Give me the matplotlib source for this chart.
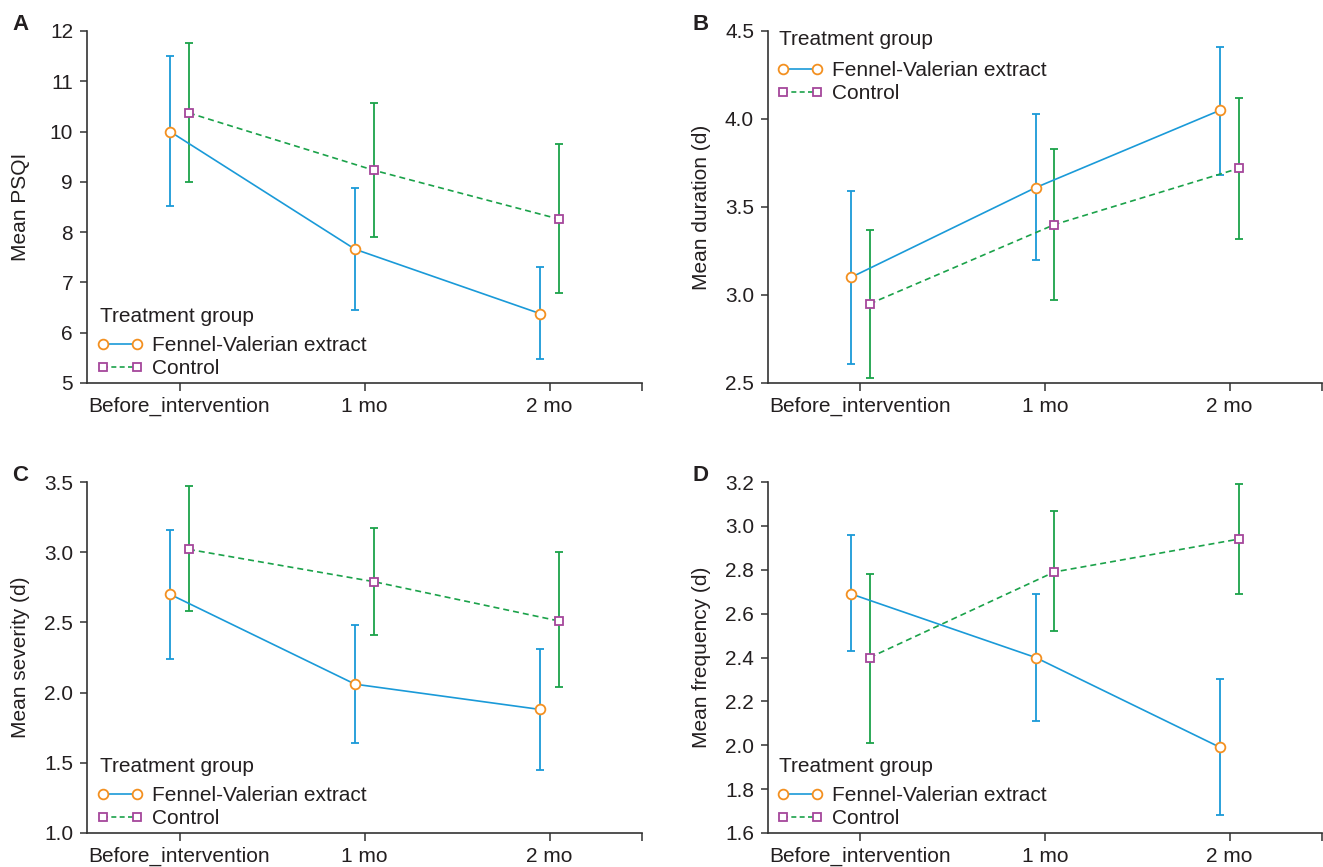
import matplotlib
matplotlib.use("Agg")
import matplotlib.pyplot as plt
from matplotlib.lines import Line2D
import numpy as np

plt.rcParams['font.family'] = ['Liberation Sans', 'DejaVu Sans']

categories = ["Before_intervention", "1 mo", "2 mo"]
groups = ["Fennel-Valerian extract", "Control"]
legend_title = "Treatment group"

# Panel A: Mean PSQI
psqi_fennel = [10.0, 7.66, 6.38]
psqi_fennel_lo = [8.51, 6.45, 5.47]
psqi_fennel_hi = [11.5, 8.87, 7.30]
psqi_control = [10.37, 9.23, 8.26]
psqi_control_lo = [8.99, 7.90, 6.78]
psqi_control_hi = [11.77, 10.57, 9.75]

# Panel B: Mean duration
dur_fennel = [3.10, 3.61, 4.05]
dur_fennel_lo = [2.61, 3.20, 3.68]
dur_fennel_hi = [3.59, 4.03, 4.41]
dur_control = [2.95, 3.40, 3.72]
dur_control_lo = [2.53, 2.97, 3.32]
dur_control_hi = [3.37, 3.83, 4.12]

# Panel C: Mean severity
sev_fennel = [2.70, 2.06, 1.88]
sev_fennel_lo = [2.24, 1.64, 1.45]
sev_fennel_hi = [3.16, 2.48, 2.31]
sev_control = [3.02, 2.79, 2.51]
sev_control_lo = [2.58, 2.41, 2.04]
sev_control_hi = [3.47, 3.17, 3.00]

# Panel D: Mean frequency
freq_fennel = [2.69, 2.40, 1.99]
freq_fennel_lo = [2.43, 2.11, 1.68]
freq_fennel_hi = [2.96, 2.69, 2.30]
freq_control = [2.40, 2.79, 2.94]
freq_control_lo = [2.01, 2.52, 2.69]
freq_control_hi = [2.78, 3.07, 3.19]

BLUE = "#1a9ad8"
ORANGE = "#f39020"
GREEN = "#1ba24a"
PURPLE = "#a5479b"
TXT = "#231f20"
AXC = "#333333"

FW, FH = 1323, 867
fig = plt.figure(figsize=(FW / 100, FH / 100), dpi=100)

def rect(x0, x1, ytop, ybot):
    return [x0 / FW, 1 - ybot / FH, (x1 - x0) / FW, (ybot - ytop) / FH]

panels = [
    dict(pos=rect(87, 642, 31, 383), letter="A", lxy=(12, 30), ylabel="Mean PSQI", ylim=(5, 12),
         yticks=np.arange(5, 13, 1), fmt="%d",
         f=(psqi_fennel, psqi_fennel_lo, psqi_fennel_hi),
         c=(psqi_control, psqi_control_lo, psqi_control_hi),
         title_xy=(0.0234, 0.190), leg_xy=(0.0176, 0.0135)),
    dict(pos=rect(768, 1322, 31, 383), letter="B", lxy=(692, 30), ylabel="Mean duration (d)",
         ylim=(2.5, 4.5), yticks=np.arange(2.5, 4.51, 0.5), fmt="%.1f",
         f=(dur_fennel, dur_fennel_lo, dur_fennel_hi),
         c=(dur_control, dur_control_lo, dur_control_hi),
         title_xy=(0.0198, 0.975), leg_xy=(0.0158, 0.795)),
    dict(pos=rect(87, 642, 482, 833), letter="C", lxy=(12, 481), ylabel="Mean severity (d)",
         ylim=(1.0, 3.5), yticks=np.arange(1.0, 3.51, 0.5), fmt="%.1f",
         f=(sev_fennel, sev_fennel_lo, sev_fennel_hi),
         c=(sev_control, sev_control_lo, sev_control_hi),
         title_xy=(0.0234, 0.190), leg_xy=(0.0176, 0.0135)),
    dict(pos=rect(768, 1322, 482, 833), letter="D", lxy=(692, 481), ylabel="Mean frequency (d)",
         ylim=(1.6, 3.2), yticks=np.arange(1.6, 3.21, 0.2), fmt="%.1f",
         f=(freq_fennel, freq_fennel_lo, freq_fennel_hi),
         c=(freq_control, freq_control_lo, freq_control_hi),
         title_xy=(0.0198, 0.190), leg_xy=(0.0158, 0.0135)),
]

x = np.arange(len(categories))
dodge = 0.051
FS = 15

for p in panels:
    ax = fig.add_axes(p["pos"])
    fm, flo, fhi = [np.array(v) for v in p["f"]]
    cm, clo, chi = [np.array(v) for v in p["c"]]
    ax.errorbar(x - dodge, fm, yerr=[fm - flo, fhi - fm], fmt="none", ecolor=BLUE,
                elinewidth=1.3, capsize=3, capthick=1.3, zorder=2)
    ax.errorbar(x + dodge, cm, yerr=[cm - clo, chi - cm], fmt="none", ecolor=GREEN,
                elinewidth=1.3, capsize=3, capthick=1.3, zorder=2)
    ax.plot(x - dodge, fm, color=BLUE, lw=1.2, zorder=3)
    ax.plot(x + dodge, cm, color=GREEN, lw=1.2, ls=(0, (3.6, 2.4)), zorder=3)
    ax.plot(x - dodge, fm, ls="none", marker="o", ms=7, mfc="white", mec=ORANGE, mew=1.3, zorder=4)
    ax.plot(x + dodge, cm, ls="none", marker="s", ms=5.8, mfc="white", mec=PURPLE, mew=1.3, zorder=4)

    ax.set_xlim(-0.5, 2.5)
    ax.set_ylim(*p["ylim"])
    ax.set_yticks(p["yticks"])
    ax.set_yticklabels([p["fmt"] % v for v in p["yticks"]])
    ax.set_xticks(x)
    ax.set_xticklabels(categories)
    ax.set_xticks([2.5], minor=True)
    ax.tick_params(axis="x", which="minor", length=6, width=1.1, color=AXC)
    ax.tick_params(axis="x", which="major", length=6, width=1.1, color=AXC,
                   labelsize=FS, labelcolor=TXT, pad=4)
    ax.tick_params(axis="y", length=5, width=1.1, color=AXC, labelsize=FS,
                   labelcolor=TXT, pad=5)
    for s in ["top", "right"]:
        ax.spines[s].set_visible(False)
    for s in ["left", "bottom"]:
        ax.spines[s].set_linewidth(1.2)
        ax.spines[s].set_color(AXC)
    ax.set_ylabel(p["ylabel"], fontsize=FS, color=TXT)
    ax.yaxis.set_label_coords(-0.102, 0.5)

    handles = [
        Line2D([0], [0], color=BLUE, lw=1.2, marker="o", ms=7, mfc="white", mec=ORANGE, mew=1.3),
        Line2D([0], [0], color=GREEN, lw=1.2, ls=(0, (3, 2)), marker="s", ms=5.8, mfc="white",
               mec=PURPLE, mew=1.3),
    ]
    leg = ax.legend(handles, groups, loc="lower left", bbox_to_anchor=p["leg_xy"],
                    frameon=False, fontsize=FS, handlelength=2.23,
                    handletextpad=0.42, labelspacing=0.2, borderaxespad=0, borderpad=0,
                    numpoints=2)
    for t in leg.get_texts():
        t.set_color(TXT)
    ax.text(p["title_xy"][0], p["title_xy"][1], legend_title, transform=ax.transAxes,
            fontsize=FS, color=TXT, ha="left", va="center")

    fig.text(p["lxy"][0] / FW, 1 - p["lxy"][1] / FH, p["letter"],
             fontsize=16, fontweight="bold", color=TXT,
             va="baseline", ha="left")

fig.savefig("out.png", dpi=100)
